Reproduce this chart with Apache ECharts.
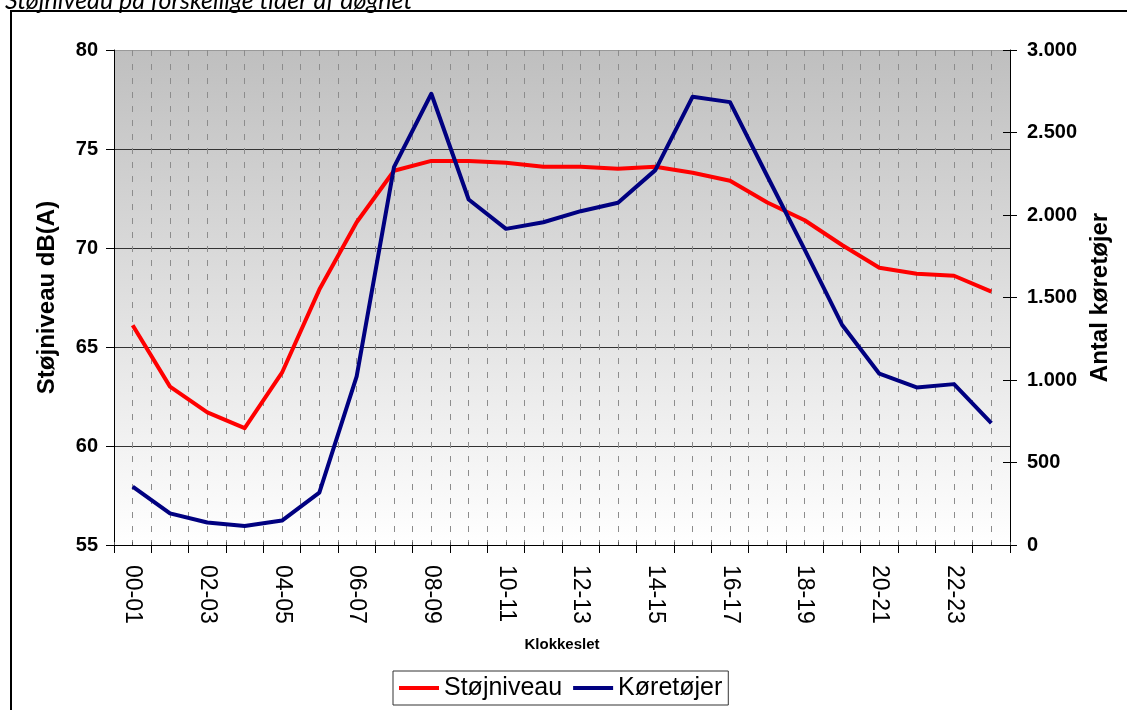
<!DOCTYPE html>
<html>
<head>
<meta charset="utf-8">
<script src="https://cdn.jsdelivr.net/npm/echarts@6/dist/echarts.min.js"></script>
<style>
html,body{margin:0;padding:0;background:#fff;}
#chart{width:1127px;height:710px;}
</style>
</head>
<body>
<div id="chart"></div>
<script>
var categories = ["00-01","01-02","02-03","03-04","04-05","05-06","06-07","07-08","08-09","09-10","10-11","11-12",
                  "12-13","13-14","14-15","15-16","16-17","17-18","18-19","19-20","20-21","21-22","22-23","23-24"];
var stojniveau = [66.1,63.0,61.7,60.9,63.7,67.9,71.3,73.9,74.4,74.4,74.3,74.1,
                  74.1,74.0,74.1,73.8,73.4,72.3,71.4,70.15,69.0,68.7,68.6,67.8];
var koretojer = [354,192,136,115,148,318,1022,2290,2735,2094,1916,1956,
                 2023,2074,2272,2717,2684,2235,1790,1335,1038,955,975,739];
var leftTicks = {min:55, max:80, interval:5};
var rightTicks = {min:0, max:3000, interval:500};
var halfSlots = [];
for (var i = 0; i < categories.length * 2; i++) halfSlots.push('');

var chart = echarts.init(document.getElementById('chart'), null, {renderer:'canvas'});
var fontBase = 'Liberation Sans, Arial, sans-serif';
function fmtThousands(v){
  return String(v).replace(/\B(?=(\d{3})+(?!\d))/g, '.');
}
chart.setOption({
  animation:false,
  backgroundColor:'#fff',
  textStyle:{fontFamily:fontBase},
  graphic:[
    {type:'rect', shape:{x:11,y:11,width:1300,height:900}, style:{fill:'none',stroke:'#000',lineWidth:2}, z:0},
    {type:'text', x:5, y:13, style:{text:'Støjniveau på forskellige tider af døgnet', font:'italic 25px Lato, "Open Sans", sans-serif', fill:'#000', verticalAlign:'bottom', align:'left'}}
  ],
  legend:{
    left:393, top:671,
    padding:[4,6,4,6],
    borderColor:'#333', borderWidth:1,
    itemWidth:40, itemHeight:4, itemGap:11,
    icon:'rect',
    textStyle:{fontFamily:fontBase, fontSize:25, color:'#000', lineHeight:26},
    data:['Støjniveau','Køretøjer']
  },
  grid:{
    left:114, right:117, top:50, bottom:165,
    show:true,
    borderWidth:0,
    backgroundColor:{type:'linear',x:0,y:0,x2:0,y2:1,colorStops:[{offset:0,color:'#bfbfbf'},{offset:1,color:'#ffffff'}]}
  },
  xAxis:[
    {
      type:'category', data:categories, boundaryGap:true, position:'bottom',
      axisLine:{show:true, lineStyle:{color:'#000', width:1}},
      axisTick:{show:true, inside:false, length:8, interval:0, lineStyle:{color:'#000'}},
      axisLabel:{interval:1, rotate:-90, fontSize:23, color:'#000', margin:20, fontFamily:fontBase},
      splitLine:{show:false},
      name:'Klokkeslet', nameLocation:'middle', nameGap:92,
      nameTextStyle:{fontSize:15, fontWeight:'bold', color:'#000', fontFamily:fontBase}
    },
    {
      type:'category', data:halfSlots, boundaryGap:true, position:'bottom',
      axisLine:{show:false},
      axisTick:{show:true, inside:true, length:3, interval:0, lineStyle:{color:'#555'}},
      axisLabel:{show:false},
      splitLine:{show:true, interval:0, lineStyle:{color:'#8c8c8c', width:1, type:[6,8]}}
    }
  ],
  yAxis:[
    {
      type:'value', position:'left', min:leftTicks.min, max:leftTicks.max, interval:leftTicks.interval,
      axisLine:{show:true, lineStyle:{color:'#000', width:1}},
      axisTick:{show:true, inside:false, length:8, lineStyle:{color:'#000'}},
      axisLabel:{fontSize:20, fontWeight:'bold', color:'#000', margin:16, fontFamily:fontBase},
      splitLine:{show:true, lineStyle:{color:['#333','#333','#333','#333','#333','#999'], width:1}},
      name:'Støjniveau dB(A)', nameLocation:'middle', nameGap:55, nameRotate:90,
      nameTextStyle:{fontSize:24, fontWeight:'bold', color:'#000', fontFamily:fontBase}
    },
    {
      type:'value', position:'right', min:rightTicks.min, max:rightTicks.max, interval:rightTicks.interval,
      axisLine:{show:true, lineStyle:{color:'#000', width:1}},
      axisTick:{show:true, inside:false, length:7, lineStyle:{color:'#000'}},
      axisLabel:{fontSize:20, fontWeight:'bold', color:'#000', margin:17, fontFamily:fontBase, formatter:fmtThousands},
      splitLine:{show:false},
      name:'Antal køretøjer', nameLocation:'middle', nameGap:77, nameRotate:90,
      nameTextStyle:{fontSize:24, fontWeight:'bold', color:'#000', fontFamily:fontBase}
    },
    {
      type:'value', position:'right', min:rightTicks.min, max:rightTicks.max, interval:rightTicks.interval,
      axisLine:{show:false},
      axisTick:{show:true, inside:true, length:7, lineStyle:{color:'#000'}},
      axisLabel:{show:false},
      splitLine:{show:false}
    }
  ],
  series:[
    {
      name:'Støjniveau', type:'line', xAxisIndex:0, yAxisIndex:0, data:stojniveau,
      showSymbol:false, symbol:'none',
      lineStyle:{color:'#ff0000', width:4, join:'round'},
      itemStyle:{color:'#ff0000'}, z:3
    },
    {
      name:'Køretøjer', type:'line', xAxisIndex:0, yAxisIndex:1, data:koretojer,
      showSymbol:false, symbol:'none',
      lineStyle:{color:'#000080', width:4, join:'round'},
      itemStyle:{color:'#000080'}, z:4
    }
  ]
});
</script>
</body>
</html>
